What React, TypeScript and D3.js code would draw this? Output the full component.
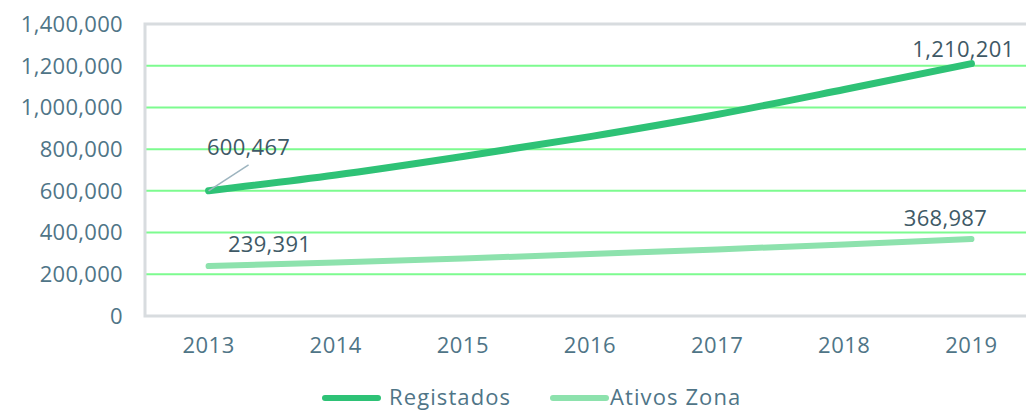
import React, { useEffect, useRef } from 'react'
import * as d3 from 'd3'

const years = ['2013', '2014', '2015', '2016', '2017', '2018', '2019']
const registados = [600467, 676000, 765000, 860000, 966000, 1086000, 1210201]
const ativosZona = [239391, 256000, 276000, 297000, 319000, 343000, 368987]
const yTicks = [0, 200000, 400000, 600000, 800000, 1000000, 1200000, 1400000]

const FONT = '"Open Sans", sans-serif'
const AXIS_TEXT = '#4f7587'
const LABEL_TEXT = '#3e5966'
const DARK_GREEN = '#2ec276'
const LIGHT_GREEN = '#8de2ad'
const GRID = '#7dfb8f'
const FRAME = '#d8dcdf'

const App: React.FC = () => {
  const ref = useRef<SVGSVGElement | null>(null)

  useEffect(() => {
    document.body.style.margin = '0'
    if (!ref.current) {
      return
    }
    const width = 1026
    const height = 412
    const margin = { top: 24, right: -9, bottom: 96, left: 145 }
    const svg = d3.select(ref.current)
    svg.selectAll('*').remove()

    const chartWidth = width - margin.left - margin.right
    const chartHeight = height - margin.top - margin.bottom

    const x = d3.scaleBand().domain(years).range([0, chartWidth])
    const y = d3.scaleLinear().domain([0, 1400000]).range([chartHeight, 0])
    const cx = (yr: string) => (x(yr) ?? 0) + x.bandwidth() / 2

    const g = svg.append('g').attr('transform', `translate(${margin.left},${margin.top})`)

    // grid
    g.selectAll('line.grid')
      .data(yTicks.filter((t) => t > 0 && t < 1400000))
      .enter()
      .append('line')
      .attr('class', 'grid')
      .attr('x1', 0)
      .attr('x2', chartWidth)
      .attr('y1', (d) => y(d))
      .attr('y2', (d) => y(d))
      .attr('stroke', GRID)
      .attr('stroke-width', 2)

    // frame
    g.append('path')
      .attr('d', `M${chartWidth},0 H0 V${chartHeight} H${chartWidth}`)
      .attr('fill', 'none')
      .attr('stroke', FRAME)
      .attr('stroke-width', 3)

    // y labels
    g.selectAll('text.ytick')
      .data(yTicks)
      .enter()
      .append('text')
      .attr('class', 'ytick')
      .attr('x', -22)
      .attr('y', (d) => y(d))
      .attr('dy', '0.36em')
      .attr('text-anchor', 'end')
      .attr('fill', AXIS_TEXT)
      .attr('font-family', FONT)
      .attr('font-size', 22)
      .attr('letter-spacing', 0.3)
      .text((d) => d3.format(',')(d))

    // x labels
    g.selectAll('text.xtick')
      .data(years)
      .enter()
      .append('text')
      .attr('class', 'xtick')
      .attr('x', (d) => cx(d))
      .attr('y', chartHeight + 37)
      .attr('text-anchor', 'middle')
      .attr('fill', AXIS_TEXT)
      .attr('font-family', FONT)
      .attr('font-size', 22)
      .attr('letter-spacing', 0.5)
      .text((d) => d)

    const line = d3
      .line<number>()
      .x((_, i) => cx(years[i]))
      .y((d) => y(d))
      .curve(d3.curveMonotoneX)

    g.append('path')
      .datum(ativosZona)
      .attr('d', line)
      .attr('fill', 'none')
      .attr('stroke', LIGHT_GREEN)
      .attr('stroke-width', 6)
      .attr('stroke-linecap', 'round')

    g.append('path')
      .datum(registados)
      .attr('d', line)
      .attr('fill', 'none')
      .attr('stroke', DARK_GREEN)
      .attr('stroke-width', 7)
      .attr('stroke-linecap', 'round')

    // leader line for first label
    const first = years[0]
    const last = years[years.length - 1]
    g.append('line')
      .attr('x1', cx(first))
      .attr('y1', y(registados[0]))
      .attr('x2', cx(first) + 40)
      .attr('y2', y(registados[0]) - 26)
      .attr('stroke', '#9db4bf')
      .attr('stroke-width', 1.5)

    const labels = [
      { x: cx(first) + 40, y: y(registados[0]) - 36, v: registados[0] },
      { x: cx(last) - 8, y: y(registados[6]) - 7, v: registados[6] },
      { x: cx(first) + 61, y: y(ativosZona[0]) - 14, v: ativosZona[0] },
      { x: cx(last) - 26, y: y(ativosZona[6]) - 13, v: ativosZona[6] },
    ]
    g.selectAll('text.dlabel')
      .data(labels)
      .enter()
      .append('text')
      .attr('class', 'dlabel')
      .attr('x', (d) => d.x)
      .attr('y', (d) => d.y)
      .attr('text-anchor', 'middle')
      .attr('fill', LABEL_TEXT)
      .attr('font-family', FONT)
      .attr('font-size', 22)
      .attr('letter-spacing', 0.3)
      .text((d) => d3.format(',')(d.v))

    // legend
    const legendItems = [
      { name: 'Registados', color: DARK_GREEN, x: 323, tx: 389 },
      { name: 'Ativos Zona', color: LIGHT_GREEN, x: 551, tx: 610 },
    ]
    const legend = svg.append('g')
    legendItems.forEach((item) => {
      legend
        .append('line')
        .attr('x1', item.x + 2)
        .attr('x2', item.x + 55)
        .attr('y1', 398)
        .attr('y2', 398)
        .attr('stroke', item.color)
        .attr('stroke-width', 6)
        .attr('stroke-linecap', 'round')
      legend
        .append('text')
        .attr('x', item.tx)
        .attr('y', 405)
        .attr('fill', AXIS_TEXT)
        .attr('font-family', FONT)
        .attr('font-size', 22)
        .attr('letter-spacing', 1.1)
        .text(item.name)
    })
  }, [])

  return <svg ref={ref} width={1026} height={412} style={{ display: 'block' }} />
}

export default App
